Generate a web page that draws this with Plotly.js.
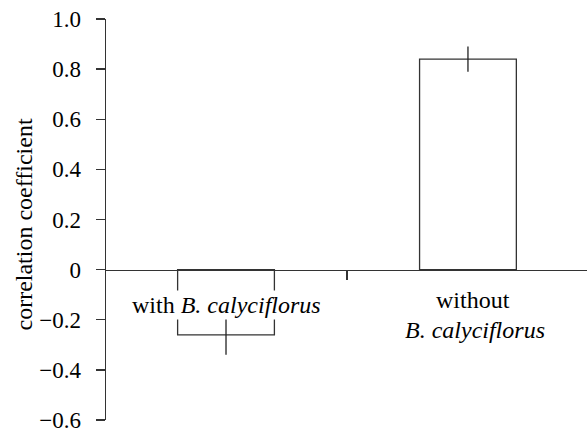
<!DOCTYPE html>
<html>
<head>
<meta charset="utf-8">
<script src="https://cdn.plot.ly/plotly-3.0.1.min.js"></script>
<style>html,body{margin:0;padding:0;background:#fff;}#chart{width:587px;height:435px;}</style>
</head>
<body>
<div id="chart"></div>
<script>
const categories = ["with", "without"];
const values = [-0.26, 0.84];
const errors = [0.08, 0.05];
const yTicks = [-0.6, -0.4, -0.2, 0, 0.2, 0.4, 0.6, 0.8, 1.0];
const yTickLabels = ["\u22120.6", "\u22120.4", "\u22120.2", "0", "0.2", "0.4", "0.6", "0.8", "1.0"];

function mkFont(size) { return {family: "Liberation Serif", size: size, color: "#000"}; }

const trace = {
  type: "bar",
  x: [0, 1],
  y: values,
  width: 0.4,
  marker: {color: "#ffffff", line: {color: "#333", width: 1.3}},
  error_y: {type: "data", array: errors, visible: true, color: "#222", thickness: 1.3, width: 0},
  hoverinfo: "skip"
};

const layout = {
  width: 587, height: 435,
  margin: {l: 106, r: 0, t: 19, b: 15},
  paper_bgcolor: "#fff", plot_bgcolor: "#fff",
  showlegend: false,
  xaxis: {
    range: [-0.496, 1.492],
    anchor: "free",
    position: 0.375,
    showline: true, linecolor: "#333", linewidth: 1.3,
    tickvals: [0.5], ticktext: [""],
    ticks: "outside", ticklen: 9, tickcolor: "#333", tickwidth: 1.3,
    showgrid: false, zeroline: false, fixedrange: true
  },
  yaxis: {
    range: [-0.6, 1.0],
    tickvals: yTicks, ticktext: yTickLabels,
    showline: true, linecolor: "#333", linewidth: 1.3,
    ticks: "outside", ticklen: 9, tickcolor: "#333", tickwidth: 1.3,
    showgrid: false, zeroline: false, fixedrange: true,
    tickfont: mkFont(23), ticklabelstandoff: 10
  },
  annotations: [
    {xref: "paper", yref: "y", x: 0, y: 0.18, xshift: -82, textangle: -90,
     text: "correlation coefficient", showarrow: false, font: mkFont(24), xanchor: "center", yanchor: "middle"},
    {xref: "x", yref: "y", x: 0, y: -0.14, text: "with <i>B. calyciflorus</i>", showarrow: false,
     font: mkFont(24), bgcolor: "#fff", borderpad: 1, xanchor: "center", yanchor: "middle"},
    {xref: "x", yref: "y", x: 1.02, y: -0.12, text: "without", showarrow: false,
     font: mkFont(24), xanchor: "center", yanchor: "middle"},
    {xref: "x", yref: "y", x: 1.03, y: -0.24, text: "<i>B. calyciflorus</i>", showarrow: false,
     font: mkFont(24), xanchor: "center", yanchor: "middle"}
  ]
};

Plotly.newPlot("chart", [trace], layout, {displayModeBar: false, staticPlot: true});
</script>
</body>
</html>
